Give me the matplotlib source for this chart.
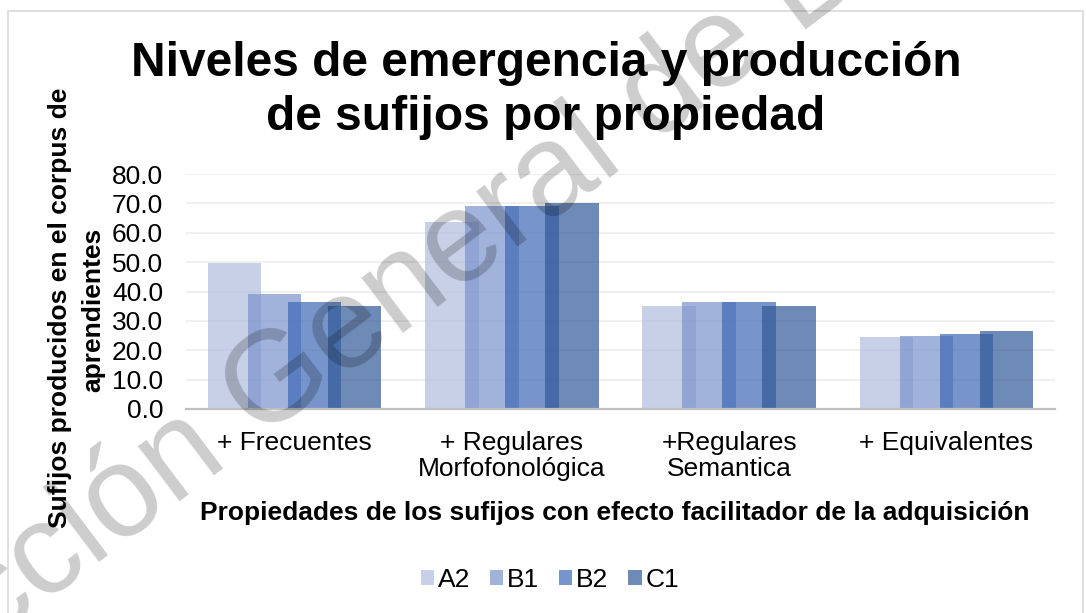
import numpy as np
import matplotlib
matplotlib.use("Agg")
import matplotlib.pyplot as plt
from matplotlib.patches import Rectangle

# data
categories = ["+ Frecuentes", "+ Regulares\nMorfofonológica", "+Regulares\nSemantica", "+ Equivalentes"]
levels = ["A2", "B1", "B2", "C1"]
a2 = [49.7, 63.7, 35.0, 24.4]
b1 = [39.1, 69.1, 36.5, 24.9]
b2 = [36.5, 69.0, 36.4, 25.4]
c1 = [35.0, 70.1, 35.0, 26.6]
colors = ["#b0bcde", "#7a92cd", "#3e69b5", "#315897"]

plt.rcParams["font.family"] = ["Liberation Sans", "DejaVu Sans"]

W, H = 1086, 613
fig = plt.figure(figsize=(W / 100, H / 100), dpi=100)

# chart border
fig.patches.append(Rectangle((8 / W, -0.05), (1083 - 8) / W, 1 - 11 / H + 0.05,
                             transform=fig.transFigure, fill=False,
                             edgecolor="#d9d9d9", linewidth=1.2))

ax = fig.add_axes([186 / W, 1 - 409 / H, (1055 - 186) / W, (409 - 174) / H])

x = np.arange(len(categories))
step = 0.184
width = 0.2465
for i, (vals, lab, col) in enumerate(zip([a2, b1, b2, c1], levels, colors)):
    ax.bar(x + (i - 1.5) * step, vals, width, color=col, alpha=0.7, label=lab, zorder=2)

ax.set_xlim(-0.5, 3.5)
ax.set_ylim(0, 80)
ax.set_yticks(np.arange(0, 81, 10))
ax.set_yticklabels([f"{v:.1f}" for v in np.arange(0, 81, 10)])
ax.set_xticks(x)
ax.set_xticklabels(categories, linespacing=1.1)
ax.tick_params(axis="y", length=0, pad=16.5, labelsize=19)
ax.tick_params(axis="x", length=0, pad=16, labelsize=19)
ax.grid(axis="y", color="#ececec", linewidth=1.1, zorder=0)
ax.set_axisbelow(True)
for s in ["top", "right", "left"]:
    ax.spines[s].set_visible(False)
ax.spines["bottom"].set_color("#bfbfbf")
ax.spines["bottom"].set_linewidth(1.6)
ax.spines["bottom"].set_zorder(3)

# title
fig.text(546 / W, 1 - 76 / H, "Niveles de emergencia y producción", ha="center",
         va="baseline", fontsize=34.5, fontweight="bold")
fig.text(546 / W, 1 - 130 / H, "de sufijos por propiedad", ha="center",
         va="baseline", fontsize=34.5, fontweight="bold")

# axis titles
fig.text(60 / W, 1 - 308 / H, "Sufijos producidos en el corpus de", rotation=90,
         ha="center", va="center", fontsize=19, fontweight="bold")
fig.text(93 / W, 1 - 310 / H, "aprendientes", rotation=90,
         ha="center", va="center", fontsize=19, fontweight="bold")
fig.text(615 / W, 1 - 520 / H, "Propiedades de los sufijos con efecto facilitador de la adquisición",
         ha="center", va="baseline", fontsize=19, fontweight="bold")

fig.legend(loc="center", bbox_to_anchor=(550 / W, 1 - 580 / H), ncol=4, frameon=False,
           fontsize=19, handlelength=0.5, handleheight=0.5, handletextpad=0.15,
           columnspacing=0.75)

# watermark
fig.text(-200 / W, 1 - 787 / H, "Dirección General de Bibliotecas", rotation=37,
         rotation_mode="anchor", ha="left", va="baseline", fontsize=93,
         color="black", alpha=0.2, zorder=10)

fig.savefig("out.png", dpi=100, facecolor="white")
